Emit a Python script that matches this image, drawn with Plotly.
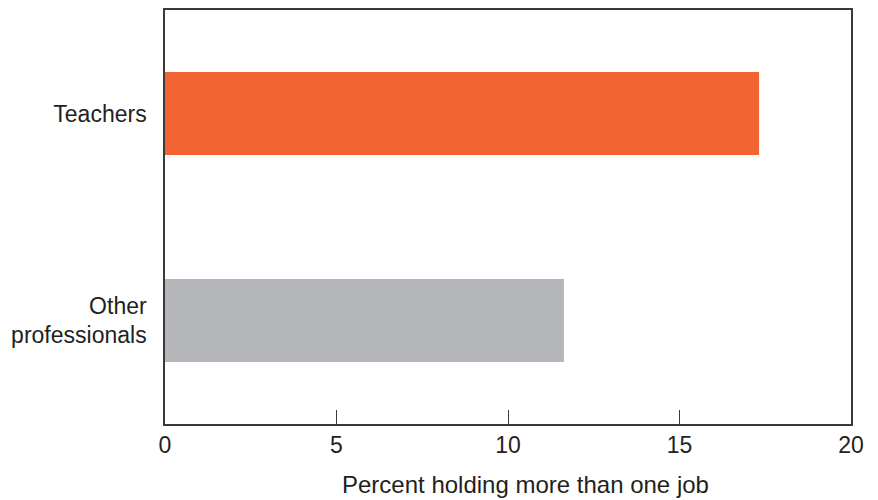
import plotly.graph_objects as go

categories = ["Other professionals", "Teachers"]
category_labels = ["Other<br>professionals", "Teachers"]
values = [11.63, 17.32]
bar_colors = ["#B5B6BA", "#F26532"]
x_ticks = [0, 5, 10, 15, 20]
x_title = "Percent holding more than one job"

FONT = "Liberation Sans, Arial, Helvetica, sans-serif"

fig = go.Figure(
    go.Bar(
        x=values,
        y=categories,
        orientation="h",
        marker=dict(color=bar_colors, line=dict(width=0)),
        width=0.4,
        hoverinfo="x+y",
    )
)

fig.update_layout(
    width=878,
    height=500,
    margin=dict(l=165, r=27, t=8, b=76),
    paper_bgcolor="white",
    plot_bgcolor="white",
    showlegend=False,
    font=dict(family=FONT, size=23, color="#231F20"),
    annotations=[
        dict(
            text=x_title,
            xref="paper",
            yref="paper",
            x=0.525,
            y=-0.145,
            xanchor="center",
            yanchor="middle",
            showarrow=False,
            font=dict(size=24, color="#231F20"),
        )
    ],
)

fig.update_xaxes(
    range=[0, 20],
    tickvals=x_ticks,
    ticktext=[str(v) for v in x_ticks],
    ticks="inside",
    ticklen=14,
    tickwidth=1.3,
    tickcolor="#3a3a3a",
    showline=True,
    linewidth=1.5,
    linecolor="#3a3a3a",
    mirror=True,
    showgrid=False,
    zeroline=False,
    tickfont=dict(size=23),
)

fig.update_yaxes(
    type="category",
    categoryorder="array",
    categoryarray=categories,
    tickvals=categories,
    ticktext=category_labels,
    range=[-0.5, 1.5],
    ticks="",
    showline=True,
    linewidth=1.5,
    linecolor="#3a3a3a",
    mirror=True,
    showgrid=False,
    zeroline=False,
    tickfont=dict(size=23),
    ticklabelstandoff=12,
)

fig.write_html("out.html")
